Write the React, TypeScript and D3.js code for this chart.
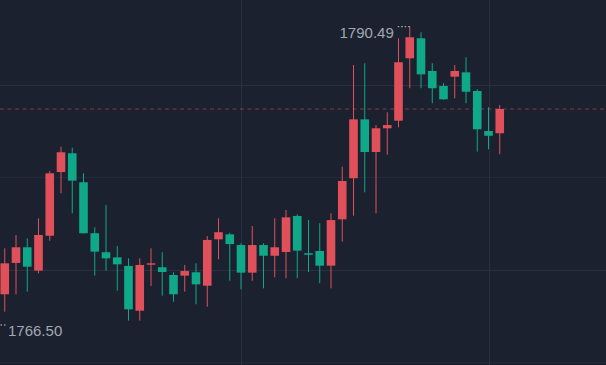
import React from "react";
import * as d3 from "d3";

// candles, oldest first (the first one sits just off the left edge)
const opens = [
  1769.9, 1768.97, 1771.49, 1772.75, 1770.87, 1773.68, 1778.8, 1780.31, 1777.98, 1773.88,
  1772.35, 1771.94, 1771.25, 1767.65, 1771.35, 1771.14, 1770.52, 1770.47, 1770.74, 1769.66,
  1773.39, 1773.79, 1772.93, 1770.71, 1772.93, 1772.07, 1772.37, 1775.27, 1772.27, 1772.45,
  1771.27, 1775.0, 1778.3, 1783.04, 1780.41, 1782.32, 1782.93, 1787.95, 1789.56, 1786.93,
  1785.72, 1786.47, 1786.82, 1785.32, 1782.1, 1781.92,
];
const highs = [
  1770.4, 1772.67, 1773.74, 1773.47, 1775.08, 1778.89, 1780.84, 1780.76, 1778.7, 1774.36,
  1776.15, 1772.85, 1771.86, 1771.86, 1772.67, 1772.35, 1770.74, 1771.33, 1771.46, 1773.66,
  1775.08, 1773.92, 1773.07, 1774.46, 1773.07, 1775.08, 1775.75, 1775.4, 1774.94, 1774.68,
  1775.48, 1779.23, 1787.41, 1787.55, 1782.58, 1783.61, 1789.56, 1790.49, 1790.04, 1787.55,
  1785.94, 1787.41, 1788.03, 1785.46, 1784.01, 1784.19,
];
const lows = [
  1766.5, 1767.57, 1768.97, 1769.18, 1770.66, 1773.28, 1777.09, 1775.48, 1773.86, 1770.47,
  1770.87, 1769.26, 1766.85, 1766.85, 1769.64, 1768.86, 1768.37, 1769.18, 1768.17, 1767.97,
  1771.78, 1770.06, 1769.37, 1770.06, 1769.45, 1770.34, 1770.26, 1770.26, 1770.76, 1769.85,
  1769.45, 1773.2, 1775.29, 1777.17, 1775.48, 1780.2, 1782.4, 1785.54, 1785.54, 1784.33,
  1784.61, 1784.73, 1784.33, 1780.44, 1780.63, 1780.23,
];
const closes = [
  1768.2, 1771.46, 1772.75, 1771.19, 1773.74, 1778.7, 1780.39, 1778.11, 1773.88, 1772.4,
  1771.86, 1771.38, 1767.76, 1771.33, 1771.46, 1770.76, 1768.97, 1770.84, 1769.77, 1773.34,
  1773.96, 1773.01, 1770.71, 1772.93, 1772.07, 1772.75, 1775.16, 1772.48, 1772.15, 1771.27,
  1774.94, 1778.08, 1783.04, 1780.41, 1782.32, 1782.58, 1787.63, 1789.64, 1786.66, 1785.54,
  1784.65, 1786.93, 1785.26, 1782.24, 1781.72, 1783.87,
];

const priceTicks = [1785.8, 1778.4, 1770.92, 1763.52];
const timeTickIdx = [22, 44];

const W = 606;
const H = 365;
const UP = "#e0505b";
const DOWN = "#0fa98a";
const TEXT = "#a3a8b2";

export default function App() {
  const x = d3.scaleLinear().domain([0, opens.length - 1]).range([-6.5, 499.75]);
  const y = d3.scaleLinear().domain([1766.5, 1790.49]).range([325, 26.7]);
  const bodyW = 8.6;

  const hiIdx = d3.maxIndex(highs);
  const loIdx = d3.minIndex(lows);
  const last = closes[closes.length - 1];

  return (
    <svg
      width={W}
      height={H}
      style={{ position: "absolute", left: 0, top: 0, background: "#1b212e" }}
    >
      <rect width={W} height={H} fill="#1b212e" />
      <g>
        {priceTicks.map((p, i) => (
          <line
            key={p}
            x1={0}
            x2={W}
            y1={Math.round(y(p)) + 0.5}
            y2={Math.round(y(p)) + 0.5}
            stroke={i % 2 === 0 ? "#283041" : "#222939"}
          />
        ))}
        {timeTickIdx.map((i) => (
          <line key={i} y1={0} y2={H} x1={Math.round(x(i)) + 0.5} x2={Math.round(x(i)) + 0.5} stroke="#283041" />
        ))}
      </g>

      <line
        x1={0}
        x2={W}
        y1={y(last)}
        y2={y(last)}
        stroke={UP}
        strokeOpacity={0.55}
        strokeDasharray="4,3.5"
      />

      <g>
        {opens.map((o, i) => {
          const c = closes[i];
          const col = c >= o ? UP : DOWN;
          const cx = x(i);
          const top = y(Math.max(o, c));
          const bot = y(Math.min(o, c));
          return (
            <g key={i}>
              <line x1={cx} x2={cx} y1={y(highs[i])} y2={y(lows[i])} stroke={col} strokeWidth={1} />
              <rect x={cx - bodyW / 2} y={top} width={bodyW} height={Math.max(1, bot - top)} fill={col} />
            </g>
          );
        })}
      </g>

      {/* highest / lowest marks */}
      <g fontFamily="'Liberation Sans', Arial, sans-serif" fontSize={15} fill={TEXT}>
        <line
          x1={x(hiIdx)}
          x2={x(hiIdx) - 13}
          y1={y(highs[hiIdx])}
          y2={y(highs[hiIdx])}
          stroke="#c9ccd2"
          strokeDasharray="1.5,2"
        />
        <text x={x(hiIdx) - 16} y={y(highs[hiIdx]) + 11} textAnchor="end">
          {highs[hiIdx].toFixed(2)}
        </text>
        <line
          x1={x(loIdx)}
          x2={x(loIdx) + 12.5}
          y1={y(lows[loIdx])}
          y2={y(lows[loIdx])}
          stroke="#c9ccd2"
          strokeDasharray="1.5,2"
        />
        <text x={x(loIdx) + 14.5} y={y(lows[loIdx]) + 11} textAnchor="start">
          {lows[loIdx].toFixed(2)}
        </text>
      </g>
    </svg>
  );
}
